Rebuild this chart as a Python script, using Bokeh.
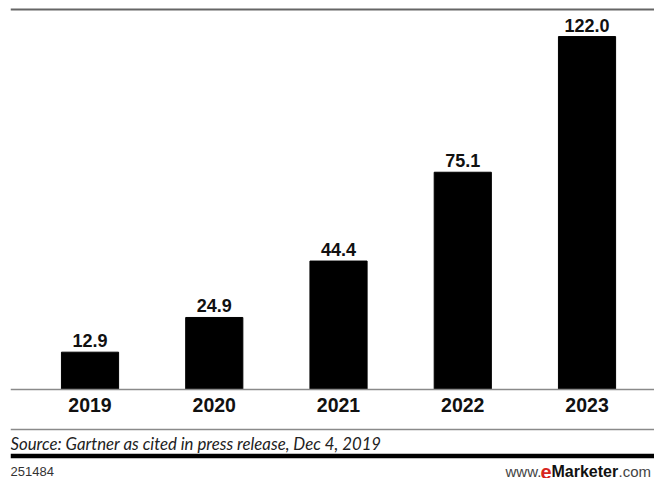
from bokeh.plotting import figure
from bokeh.models import (ColumnDataSource, Range1d, Label, Span)
from bokeh.embed import file_html
from bokeh.resources import INLINE
from bokeh.core.properties import value

# ---- data ----
years = ["2019", "2020", "2021", "2022", "2023"]
values = [12.9, 24.9, 44.4, 75.1, 122.0]
value_labels = ["12.9", "24.9", "44.4", "75.1", "122.0"]
source_note = "Source: Gartner as cited in press release, Dec 4, 2019"
chart_id = "251484"

xs = list(range(len(years)))
src = ColumnDataSource(dict(x=xs, top=values, lab=value_labels, yr=years, zero=[0] * len(xs)))

W, H = 654, 478
p = figure(width=W, height=H, output_backend="svg", toolbar_location=None,
           x_range=Range1d(-0.64, 4.543), y_range=Range1d(-30.76, 134.46),
           min_border_left=10, min_border_right=0, min_border_top=0, min_border_bottom=0,
           x_axis_location=None, y_axis_location=None)
p.outline_line_color = None
p.grid.grid_line_color = None
p.background_fill_color = "white"
p.border_fill_color = "white"

# separator rule above the source note
p.hspan(y=[-13.8], line_color="#8a8a8a", line_width=1.5)

p.vbar(x="x", top="top", width=0.46, bottom=0, source=src, color="black")
p.text(x="x", y="top", text="lab", source=src, text_align="center", text_baseline="bottom",
       y_offset=-5, text_font=value("Liberation Sans"), text_font_style="bold",
       text_font_size="18px", text_color="#111111")
# category labels under the baseline
p.text(x="x", y="zero", text="yr", source=src, text_align="center", text_baseline="top",
       y_offset=8, text_font=value("Liberation Sans"), text_font_style="bold",
       text_font_size="19.5px", text_color="#111111")

# rules
p.add_layout(Span(location=469, location_units="screen", dimension="width",
                  line_color="#666666", line_width=2))
p.add_layout(Span(location=0, location_units="data", dimension="width",
                  line_color="#8a8a8a", line_width=1.5))
p.add_layout(Span(location=22.5, location_units="screen", dimension="width",
                  line_color="black", line_width=4.5))

p.add_layout(Label(x=0, y=35, x_units="screen", y_units="screen", text=source_note,
                   text_font="Lato", text_font_style="italic", background_fill_color=None,
                   text_font_size="16.8px", text_color="#222222", text_baseline="middle"))
p.add_layout(Label(x=0, y=7, x_units="screen", y_units="screen", text=chart_id,
                   text_font="Liberation Sans", text_font_size="13px",
                   text_color="#333333", text_baseline="middle"))
p.add_layout(Label(x=495, y=7, x_units="screen", y_units="screen", text="www.",
                   text_font="Liberation Sans", text_font_size="15px",
                   text_color="#444444", text_baseline="middle"))
p.add_layout(Label(x=530, y=7, x_units="screen", y_units="screen", text="e",
                   text_font="Liberation Sans", text_font_style="bold", text_font_size="20px",
                   text_color="#d7261e", text_baseline="middle"))
p.add_layout(Label(x=541, y=7, x_units="screen", y_units="screen", text="Marketer",
                   text_font="Liberation Sans", text_font_style="bold", text_font_size="16px",
                   text_color="#111111", text_baseline="middle"))
p.add_layout(Label(x=608, y=7, x_units="screen", y_units="screen", text=".com",
                   text_font="Liberation Sans", text_font_size="15px",
                   text_color="#444444", text_baseline="middle"))

open("out.html", "w").write(file_html(p, INLINE))
